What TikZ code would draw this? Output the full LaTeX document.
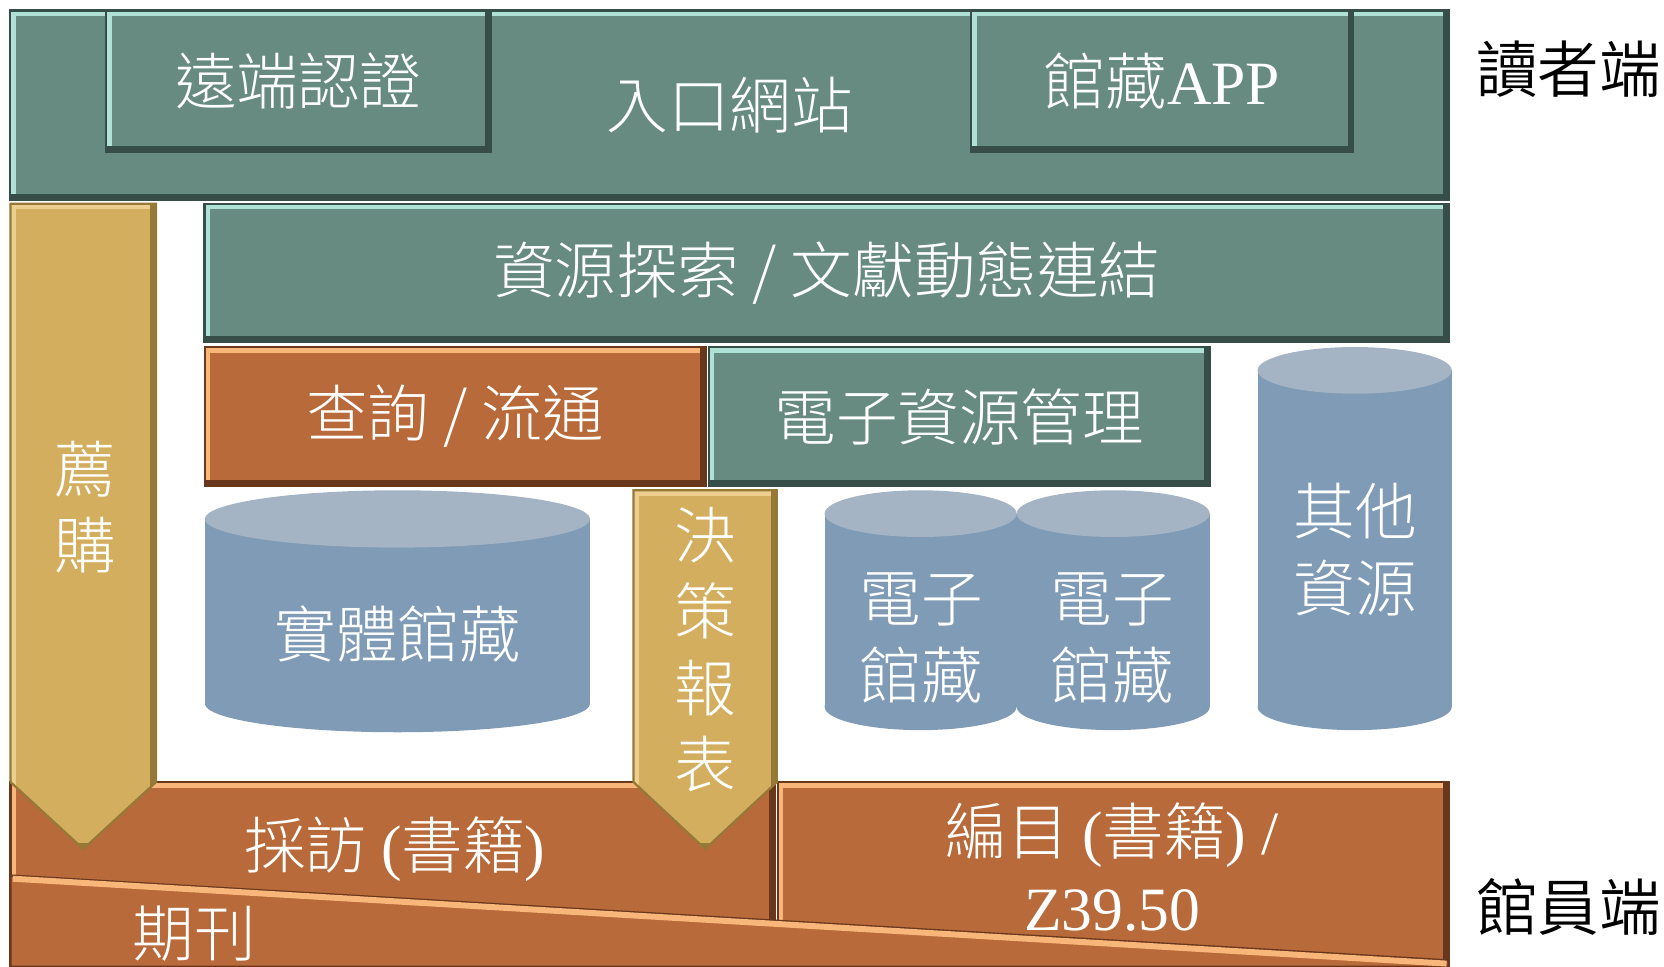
\documentclass[tikz,border=0pt]{standalone}
\usepackage{fontspec}
\setmainfont{Liberation Serif}
\newfontfamily\zhfont{Noto Sans CJK TC}[UprightFont={* Light}]
\newfontfamily\zhside{Noto Sans CJK TC}[UprightFont={* DemiLight}]
\usetikzlibrary{positioning}
\definecolor{tealfill}{RGB}{103,139,129}
\definecolor{teallight}{RGB}{175,225,215}
\definecolor{tealdark}{RGB}{55,78,72}
\definecolor{rustfill}{RGB}{184,106,58}
\definecolor{rustlight}{RGB}{248,182,122}
\definecolor{rustdark}{RGB}{105,55,28}
\definecolor{goldfill}{RGB}{211,174,94}
\definecolor{goldlight}{RGB}{236,206,142}
\definecolor{golddark}{RGB}{150,120,55}
\definecolor{drumbody}{RGB}{127,155,181}
\definecolor{drumtop}{RGB}{164,180,196}
% drum: x left, x right, y top, y bottom, ellipse half height
\newcommand{\drum}[5]{%
	\fill[drumbody] ({(#1+#2)/2},{#4-#5}) ellipse [x radius={(#2-#1)/2}, y radius=#5];
	\fill[drumbody] (#1,{#3+#5}) rectangle (#2,{#4-#5});
	\fill[drumtop] ({(#1+#2)/2},{#3+#5}) ellipse [x radius={(#2-#1)/2}, y radius=#5];
}
\tikzset{bevel/.style 2 args={path picture={
		\draw[#1, line width=3pt] (path picture bounding box.south west) -- (path picture bounding box.north west) -- (path picture bounding box.north east);
		\draw[#2, line width=3pt] (path picture bounding box.north east) -- (path picture bounding box.south east) -- (path picture bounding box.south west);
	}},
	label style/.style={
		text=white,
		font=\zhfont\fontsize{16.5}{20.5}\selectfont,
		align=center,
		inner sep=0pt,
	},
	teal style/.style={
		label style,
		rectangle,
		fill=tealfill,
		draw=tealdark,
		line width=0.6pt,
		outer sep=0pt,
		bevel={teallight}{tealdark},
	},
	rust style/.style={
		label style,
		rectangle,
		fill=rustfill,
		draw=rustdark,
		line width=0.6pt,
		outer sep=0pt,
		bevel={rustlight}{rustdark},
	},
	gold style/.style={
		fill=goldfill,
		draw=golddark,
		line width=0.6pt,
		bevel={goldlight}{golddark},
	},
	side style/.style={
		text=black,
		font=\zhside\fontsize{16.5}{20.5}\selectfont,
		inner sep=0pt,
	}
}

\begin{document}
\begin{tikzpicture}[x=0.01cm, y=-0.01cm]
	\useasboundingbox (0,0) rectangle (1568,911);
	
	\node[teal style, minimum width=13.55cm, minimum height=1.78cm] (portal) at (687.5,99) {入口網站};
	\node[teal style, minimum width=3.62cm, minimum height=1.33cm] (remote) at (281,76.5) {遠端認證};
	\node[teal style, minimum width=3.60cm, minimum height=1.33cm] (app) at (1095,76.5) {館藏{\rmfamily APP}};
	\node[side style] (readerside) at (1478,65) {讀者端};
	
	\node[teal style, minimum width=11.72cm, minimum height=1.30cm] (discovery) at (779,257) {資源探索 / 文獻動態連結};
	\node[rust style, minimum width=4.72cm, minimum height=1.31cm] (circ) at (429,392.5) {查詢 / 流通};
	\node[teal style, minimum width=4.72cm, minimum height=1.31cm] (erm) at (904,392.5) {電子資源管理};
	
	\drum{193}{556}{462}{690}{27}
	\node[label style] (physical) at (375,597) {實體館藏};
	\drum{777}{958}{462}{688}{22}
	\node[label style] (ecollA) at (868,601) {電子\\館藏};
	\drum{958}{1140}{462}{688}{22}
	\node[label style] (ecollB) at (1048,601) {電子\\館藏};
	\drum{1185}{1368}{327}{688}{22}
	\node[label style] (other) at (1277,518) {其他\\資源};
	
	\node[rust style, minimum width=7.20cm, minimum height=1.74cm] (acq) at (370,824) {};
	\node[rust style, minimum width=6.32cm, minimum height=1.74cm] (cat) at (1049,824) {};
	\node[label style] (catlbl) at (1048,817) {編目 {\rmfamily(}書籍{\rmfamily) /}\\{\rmfamily Z39.50}};
	\draw[fill=rustfill, draw=rustdark, line width=0.6pt] (10,825) -- (1365,905) -- (1365,911) -- (10,911) -- cycle;
	\draw[rustlight, line width=1.6pt] (12,828) -- (1363,908);
	\node[label style] (acqlbl) at (372,800) {採訪 {\rmfamily(}書籍{\rmfamily)}};
	\node[label style] (serials) at (183,880) {期刊};
	\node[side style] (staffside) at (1478,855) {館員端};
	
	\draw[gold style] (10,192) -- (147,192) -- (147,737) -- (78.5,800) -- (10,737) -- cycle;
	\node[label style] (recommend) at (80,478) {薦\\購};
	\draw[gold style] (597,462) -- (732,462) -- (732,737) -- (664.5,800) -- (597,737) -- cycle;
	\node[label style] (report) at (665,612) {決\\策\\報\\表};
\end{tikzpicture}
\end{document}
